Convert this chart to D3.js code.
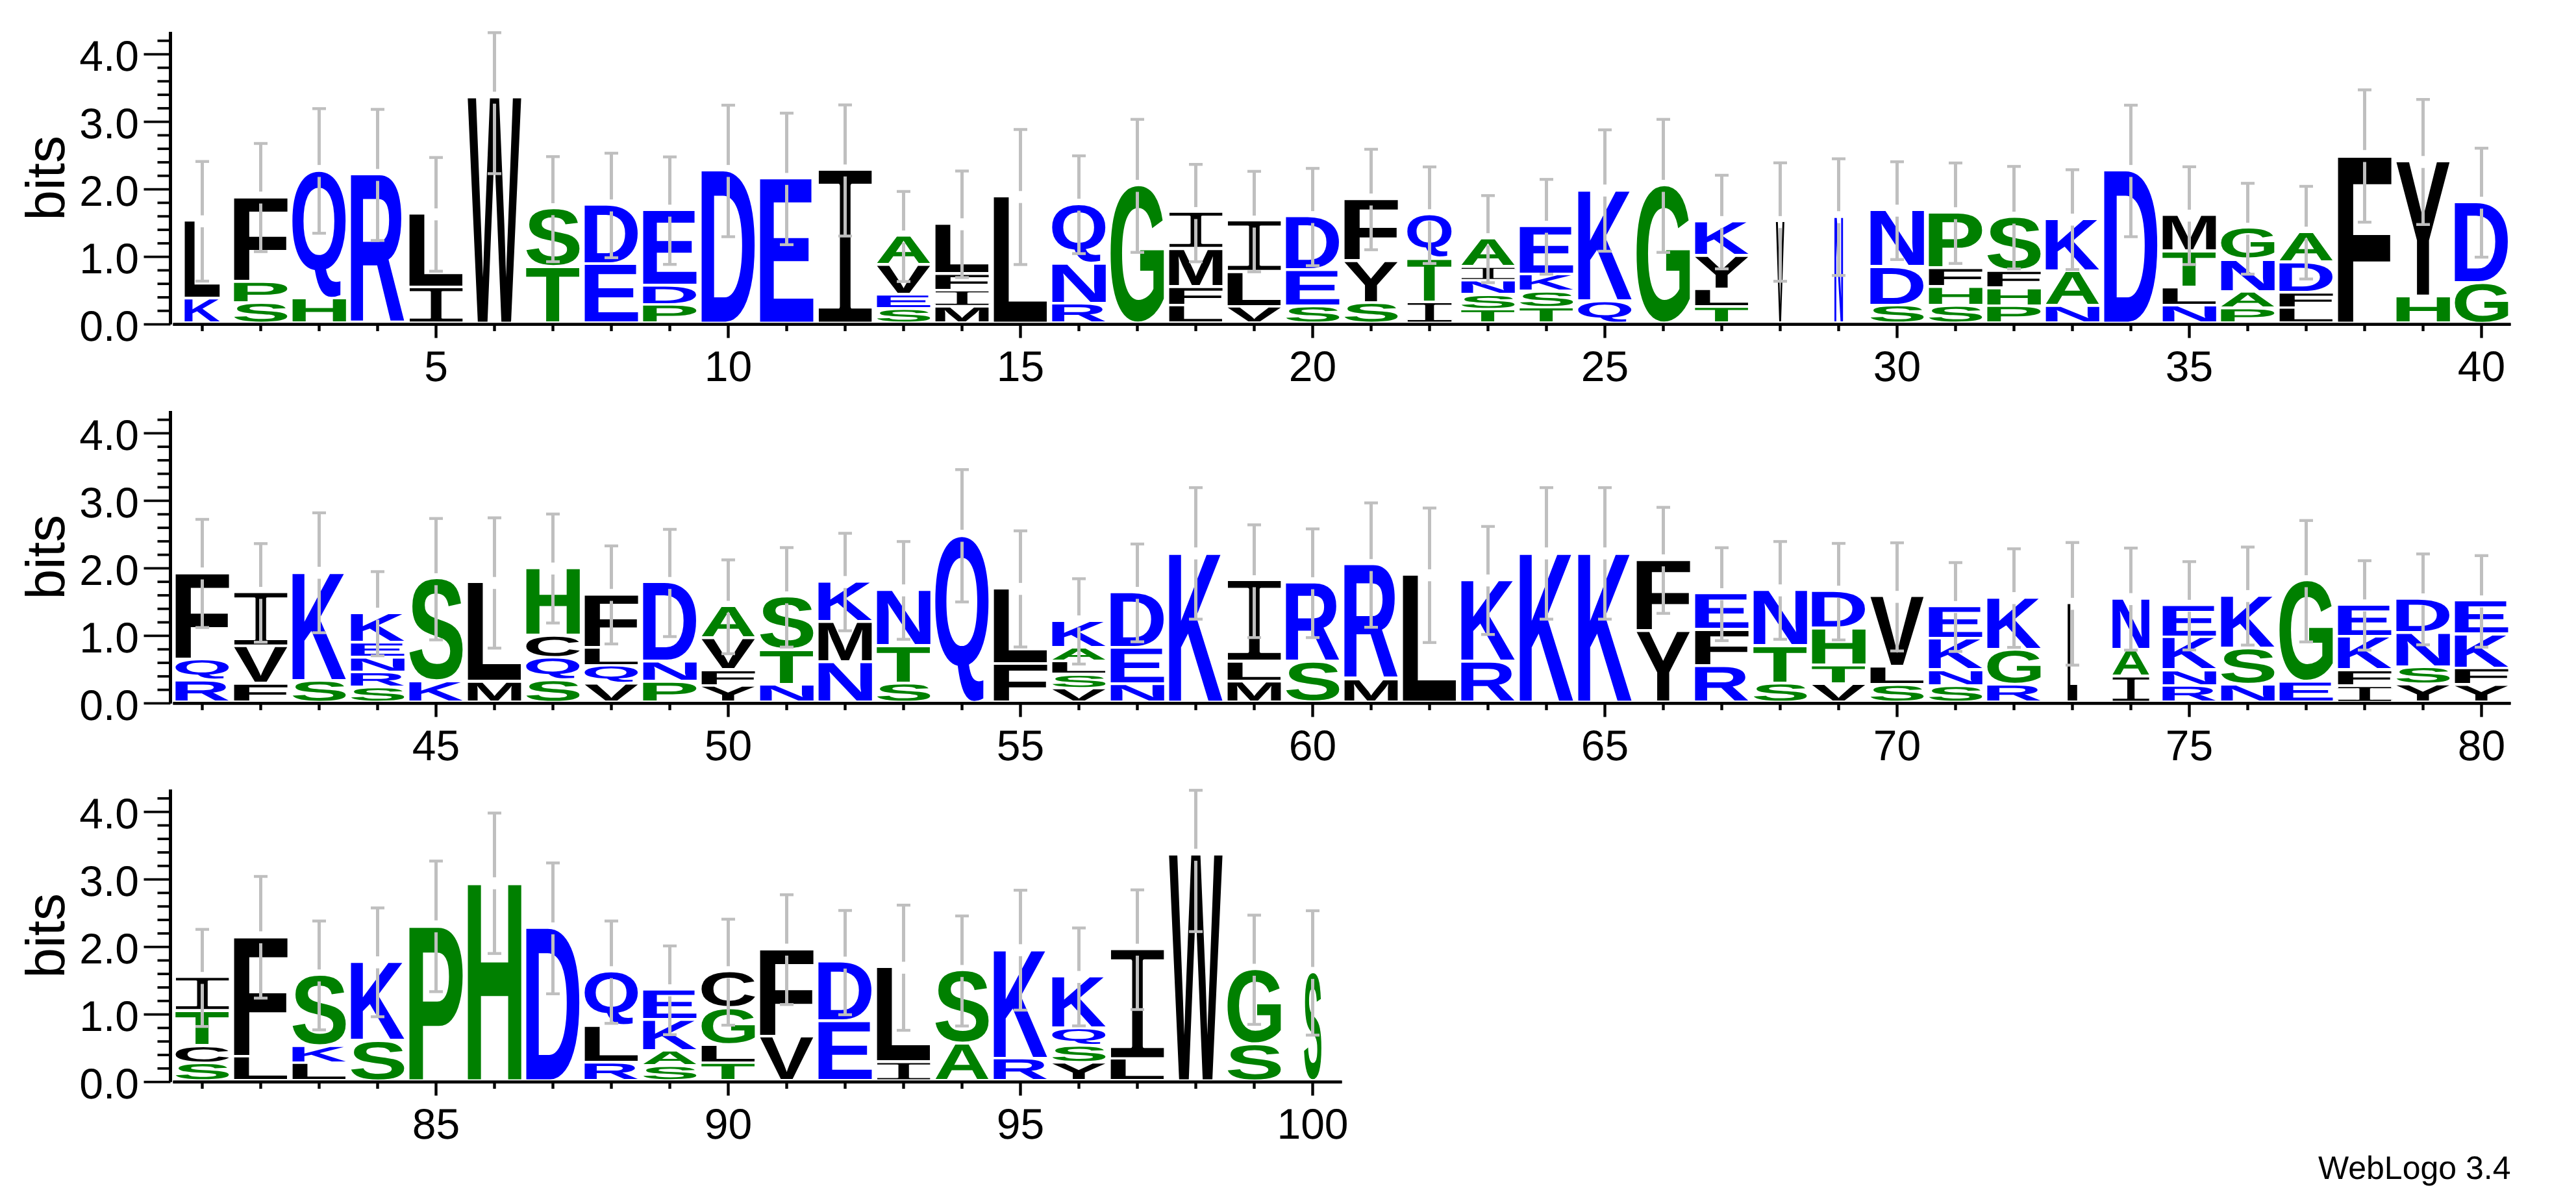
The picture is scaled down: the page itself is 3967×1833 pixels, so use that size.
<!DOCTYPE html>
<html>
<head>
<meta charset="utf-8">
<script src="https://cdn.jsdelivr.net/npm/d3@7/dist/d3.min.js"></script>
<style>
html,body{margin:0;padding:0;background:#fff}
svg{display:block}
text{font-family:"Liberation Sans",Arial,sans-serif;text-rendering:geometricPrecision}
</style>
</head>
<body>
<svg id="logo" width="3967" height="1833"></svg>
<script>
// Letters in each column, bottom of the stack to the top
const stackLetters = [
"KL","SPF","HQ","R","IL","W","TS","ED","PDE","D","E","I","SEVA","MIFL","L","RNQ","G","LFMI","VLI","SED",
"SYF","ITQ","TSNIA","TSKE","QK","G","TLYK","V","N","SDN","SHFP","PHFS","NAK","D","NLTM","PANG","LFDA","F","HY","GD",
"RQF","FVI","SK","SRNEK","KS","ML","SQCH","VQLF","PND","YFVA","NTS","NMK","STN","Q","FL","VSLAK","NED","K","MLI","SR",
"MR","L","RK","K","K","YF","RFE","STN","VTHD","SLV","SNKE","RGK","L","IAN","RNKE","NSK","EG","IFKE","YSND","YFKE",
"SCTI","LF","LKS","SK","P","H","D","RLQ","SAKE","TLGC","VF","ED","IL","AS","RK","YSQK","LI","W","SG","S"];

// Bits taken by each letter, same order
const stackBits = [
[.368,1.158],[.305,.316,1.257],[.371,1.901],[2.213],[.533,1.096],[3.357],[.838,.868],[.879,.882],[.276,.287,1.121],[2.272],
[2.154],[2.279],[.213,.213,.441,.434],[.246,.243,.25,.743],[1.886],[.294,.596,.882],[2.051],[.265,.276,.563,.544],[.246,.515,.761],[.254,.537,.798],
[.305,.621,.923],[.316,.647,.654],[.206,.217,.21,.206,.423],[.235,.239,.254,.717],[.331,1.651],[2.051],[.243,.265,.496,.511],[1.515],[1.588],[.268,.57,.846],
[.261,.279,.279,.827],[.257,.268,.257,.798],[.257,.515,.779],[2.272],[.265,.268,.537,.54],[.221,.246,.478,.471],[.228,.232,.449,.449],[2.493],[.401,2.004],[.603,1.199],
[.324,.313,1.287],[.276,.555,.805],[.324,1.61],[.224,.224,.221,.221,.438],[.313,1.526],[.305,1.478],[.331,.335,.327,1.004],[.276,.268,.268,.794],[.305,.298,1.18],[.246,.235,.471,.478],
[.265,.515,.79],[.599,.599,.599],[.283,.555,.835],[2.482],[.574,1.121],[.206,.206,.195,.206,.401],[.272,.54,.824],[2.221],[.309,.294,1.206],[.599,1.18],
[.342,1.706],[1.897],[.607,1.213],[2.221],[2.221],[1.059,1.059],[.54,.537,.54],[.283,.555,.835],[.272,.279,.548,.555],[.261,.268,1.048],
[.243,.235,.467,.482],[.265,.518,.776],[1.474],[.386,.397,.761],[.246,.232,.489,.478],[.265,.537,.787],[.305,1.504],[.246,.235,.496,.474],[.265,.257,.511,.507],[.257,.246,.507,.5],
[.264,.257,.517,.503],[.36,1.783],[.264,.257,1.057],[.598,1.174],[2.305],[2.943],[2.275],[.272,.543,.811],[.22,.228,.462,.448],[.268,.272,.543,.543],
[.657,1.303],[.884,.884],[.283,1.409],[.554,1.09],[.334,1.618],[.268,.253,.261,.774],[.33,1.629],[3.365],[.55,1.112],[1.615]];

// Half length of the error bar at each position, in bits
const errorBits = [
.886,.801,.923,.971,.842,1.125,.778,.774,.796,.974,.974,.971,.667,.789,1.0,.724,.985,.721,.744,.721,
.744,.715,.645,.702,.899,.985,.693,.877,.864,.724,.744,.759,.739,.974,.724,.673,.686,.98,.926,.807,
.801,.73,.888,.623,.899,.965,.807,.726,.794,.695,.737,.722,.724,.98,.86,.632,.724,.974,.835,.805,
.921,.996,.8,.974,.974,.785,.688,.724,.715,.801,.658,.73,.908,.756,.654,.726,.899,.662,.673,.678,
.719,.901,.806,.806,.967,1.04,.969,.758,.657,.785,.813,.772,.927,.815,.888,.725,.886,1.138,.809,.921];

// Error bars stop at the largest possible information content
const maxBits = 4.32;

// Positions whose stack is narrower than full width (share of full width)
const narrowPositions = [1,22,28,29,73,74,100];
const narrowShares    = [.66,.83,.16,.16,.18,.69,.325];

const rowRanges = [[1,40],[41,80],[81,100]];
const yMajorTicks = [0,1,2,3,4];
const yMinorTicks = [.2,.4,.6,.8,1.2,1.4,1.6,1.8,2.2,2.4,2.6,2.8,3.2,3.4,3.6,3.8,4.2];
const greenLetters = "AGHPST", blueLetters = "RNDQEK", blackLetters = "CILMFWYV";
const yLabel = "bits", creditLabel = "WebLogo 3.4";

const rowBaselines = [499.6, 1083.4, 1666.6];
const AXIS_X = 262.5, BAND_LEFT = 266.5, COL = 90, BIT = 104, YTOP = 4.33, FULL = 82.5, GLYPH_PAD = 4.2, GAP = 9.2;
const AXIS_FONT = 66;
const I_THIN = 4.4; // white edge, in font units, that slims the slab "I" towards the reference's weight

const colour = d3.scaleOrdinal()
  .domain([...greenLetters, ...blueLetters, ...blackLetters])
  .range([...greenLetters].map(()=>"#008000").concat([...blueLetters].map(()=>"#0000ff"), [...blackLetters].map(()=>"#000000")));
const shareOf = d3.scaleOrdinal().domain(narrowPositions).range(narrowShares).unknown(1);

const ctx = document.createElement("canvas").getContext("2d");
function fontFor(letter){
  return letter === "I" ? {family:'"DejaVu Sans Mono"', weight:"normal"} : {family:'"Liberation Sans"', weight:"bold"};
}
const metrics = {};
function glyphBox(letter){
  if(metrics[letter]) return metrics[letter];
  const f = fontFor(letter);
  ctx.font = `${f.weight} 200px ${f.family}`;
  const m = ctx.measureText(letter);
  return metrics[letter] = {l:-m.actualBoundingBoxLeft, r:m.actualBoundingBoxRight, a:m.actualBoundingBoxAscent, d:m.actualBoundingBoxDescent};
}

const svg = d3.select("#logo");

rowRanges.forEach(([first,last],r)=>{
  const positions = d3.range(first,last+1);
  const y0 = rowBaselines[r];
  const x = d3.scaleBand().domain(positions).range([BAND_LEFT, BAND_LEFT + COL*positions.length]);
  const y = d3.scaleLinear().domain([0,YTOP]).range([y0, y0 - BIT*YTOP]);
  const g = svg.append("g");
  const slabLayer = g.append("g"), letterLayer = g.append("g");

  // stacked letters
  positions.forEach(p=>{
    const letters = stackLetters[p-1], bits = stackBits[p-1];
    const w = FULL*shareOf(p), cx = x(p)+x.bandwidth()/2;
    let cum = 0;
    [...letters].forEach((ch,i)=>{
      const yBottom = y(cum) - GLYPH_PAD, yTop = y(cum+bits[i]);
      cum += bits[i];
      const b = glyphBox(ch), f = fontFor(ch);
      const t = ch === "I" ? I_THIN : 0;
      const sx = w/(b.r-b.l-t), sy = (yBottom-yTop)/(b.a+b.d-t);
      const node = (ch === "I" ? slabLayer : letterLayer).append("text")
        .attr("transform",`translate(${cx-w/2},${yTop}) scale(${sx},${sy})`)
        .attr("x",-b.l-t/2).attr("y",b.a-t/2)
        .style("font-family",f.family).style("font-weight",f.weight).style("font-size","200px")
        .attr("fill",colour(ch)).text(ch);
      if(t) node.attr("stroke","#fff").attr("stroke-width",t).attr("stroke-linejoin","round");
    });
  });

  // error bars
  positions.forEach(p=>{
    const top = d3.sum(stackBits[p-1]), e = errorBits[p-1];
    const hi = Math.min(top+e, maxBits), lo = top-e;
    const cx = x(p)+x.bandwidth()/2, eb = g.append("g").attr("stroke","#bfbfbf").attr("fill","none");
    const yt = y(top);
    eb.append("line").attr("x1",cx).attr("x2",cx).attr("y1",y(hi)).attr("y2",yt-GAP).attr("stroke-width",5);
    eb.append("line").attr("x1",cx).attr("x2",cx).attr("y1",yt+GAP).attr("y2",y(lo)).attr("stroke-width",5);
    [hi,lo].forEach(v=>{
      eb.append("line").attr("x1",cx-10.5).attr("x2",cx+10.5).attr("y1",y(v)).attr("y2",y(v)).attr("stroke-width",4.4);
    });
  });

  // x axis
  const xAxis = g.append("g").attr("transform",`translate(0,${y0})`);
  const labelled = positions.filter(p=>p%5===0);
  const xMinor = d3.axisBottom(x).tickValues(positions.filter(p=>p%5!==0)).tickSize(10.5).tickSizeOuter(0).tickFormat("").offset(0);
  const xMajor = d3.axisBottom(x).tickValues(labelled).tickSize(21).tickSizeOuter(0).tickPadding(20).offset(0);
  xAxis.append("g").call(xMinor);
  xAxis.append("g").call(xMajor);
  xAxis.selectAll("path.domain").attr("stroke","#000").attr("stroke-width",4.4);
  xAxis.selectAll(".tick line").attr("stroke","#000").attr("stroke-width",4.4);
  xAxis.selectAll("text").attr("fill","#000").style("font-size",AXIS_FONT+"px").style("font-family",'"Liberation Sans"');

  // y axis
  const yAxis = g.append("g").attr("transform",`translate(${AXIS_X},0)`);
  yAxis.append("g").call(d3.axisLeft(y).tickValues(yMinorTicks).tickSize(20).tickSizeOuter(0).tickFormat("").offset(0));
  yAxis.append("g").call(d3.axisLeft(y).tickValues(yMajorTicks).tickSize(41).tickSizeOuter(0).tickPadding(7.5).tickFormat(d3.format(".1f")).offset(0));
  yAxis.selectAll("path.domain").attr("stroke","#000").attr("stroke-width",5);
  yAxis.selectAll(".tick line").attr("stroke","#000").attr("stroke-width",3.8);
  yAxis.selectAll("text").attr("fill","#000").attr("dy",".39em").style("font-size",AXIS_FONT+"px").style("font-family",'"Liberation Sans"');

  // y label
  g.append("text").attr("transform",`translate(99,${y(2.165)}) rotate(-90)`)
    .attr("text-anchor","middle").style("font-size","84px").attr("fill","#000").text(yLabel);
});

svg.append("text").attr("x",3866.5).attr("y",1816).attr("text-anchor","end")
  .style("font-size","50px").attr("fill","#000").text(creditLabel);
</script>
</body>
</html>
